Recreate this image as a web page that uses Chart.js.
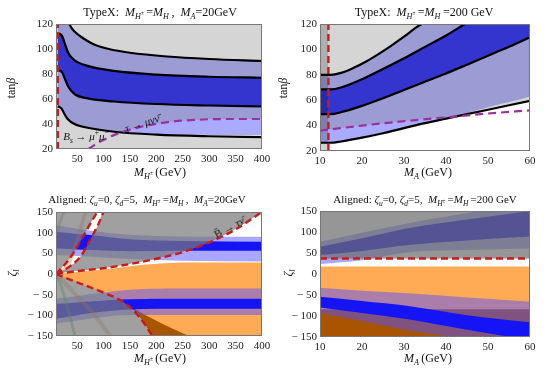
<!DOCTYPE html>
<html>
<head>
<meta charset="utf-8">
<script src="https://cdn.jsdelivr.net/npm/chart.js@4.4.0/dist/chart.umd.min.js"></script>
<style>
  body { margin: 0; width: 552px; height: 373px; overflow: hidden; position: relative; background: #fff;
         font-family: "Liberation Serif", "DejaVu Serif", serif; color: #111; }
  canvas { position: absolute; }
  .t { position: absolute; transform: translate(-50%, -50%); white-space: nowrap; font-size: 12px; }
  .s { font-size: 11px; }
  .t sub, .t sup { font-size: 68%; line-height: 0; }
  .v { transform: translate(-50%, -50%) rotate(-90deg); }
</style>
</head>
<body>
<canvas id="c1" width="276" height="185" style="left:0;top:0"></canvas>
<canvas id="c2" width="276" height="185" style="left:276px;top:0"></canvas>
<canvas id="c3" width="276" height="188" style="left:0;top:185px"></canvas>
<canvas id="c4" width="276" height="188" style="left:276px;top:185px"></canvas>

<div class="t" style="left:160px;top:12px">TypeX:&nbsp; <i>M</i><sub><i>H</i><sup>±</sup></sub>&thinsp;=<i>M</i><sub><i>H</i></sub>&thinsp;,&nbsp; <i>M</i><sub><i>A</i></sub>=20GeV</div>
<div class="t" style="left:424px;top:12px">TypeX:&nbsp; <i>M</i><sub><i>H</i><sup>±</sup></sub>&thinsp;=<i>M</i><sub><i>H</i></sub>&thinsp;=200 GeV</div>
<div class="t s" style="left:147px;top:199px">Aligned: <i>ζ</i><sub><i>u</i></sub>=0, <i>ζ</i><sub><i>d</i></sub>=5,&nbsp; <i>M</i><sub><i>H</i><sup>±</sup></sub>&thinsp;=<i>M</i><sub><i>H</i></sub>&thinsp;,&nbsp; <i>M</i><sub><i>A</i></sub>=20GeV</div>
<div class="t s" style="left:425px;top:199px">Aligned: <i>ζ</i><sub><i>u</i></sub>=0, <i>ζ</i><sub><i>d</i></sub>=5,&nbsp; <i>M</i><sub><i>H</i><sup>±</sup></sub>&thinsp;=<i>M</i><sub><i>H</i></sub>&thinsp;=200 GeV</div>

<div class="t" style="left:160px;top:172px"><i>M</i><sub><i>H</i><sup>±</sup></sub>&thinsp;(GeV)</div>
<div class="t" style="left:428px;top:172px"><i>M</i><sub><i>A</i></sub>&thinsp;(GeV)</div>
<div class="t" style="left:160px;top:358px"><i>M</i><sub><i>H</i><sup>±</sup></sub>&thinsp;(GeV)</div>
<div class="t" style="left:428px;top:358px"><i>M</i><sub><i>A</i></sub>&thinsp;(GeV)</div>

<div class="t v" style="left:11px;top:88px">tan<i>β</i></div>
<div class="t v" style="left:283px;top:88px">tan<i>β</i></div>
<div class="t v" style="left:12px;top:273px"><i>ζ</i><sub><i>l</i></sub></div>
<div class="t v" style="left:288px;top:273px"><i>ζ</i><sub><i>l</i></sub></div>

<div class="t s" style="left:86px;top:136px"><i>B</i><sub><i>s</i></sub> → <i>μ</i><sup>+</sup><i>μ</i><sup>−</sup></div>
<div class="t s" style="left:142px;top:123px;transform:translate(-50%,-50%) rotate(-18deg)"><i>τ</i> → <i>μ</i><i>ν</i><i>ν̄</i></div>
<div class="t s" style="left:229px;top:227px;transform:translate(-50%,-50%) rotate(-28deg)">B̄ → <i>τ</i><i>ν̄</i></div>

<script>
// ---------- tick labels ----------
const massTicksHpm = [50, 100, 150, 200, 250, 300, 350, 400];
const massTicksA = [10, 20, 30, 40, 50, 60];
const tanbTicks = [20, 40, 60, 80, 100, 120];
const zetaTicks = [-150, -100, -50, 0, 50, 100, 150];

// ---------- panel 1: TypeX, M_A = 20 GeV (x = M_H+, y = tan beta) ----------
const p1AM = [35, 40, 45, 60, 80, 110, 150, 220, 300, 400];
const p1A = [120, 116.5, 114, 109, 104, 100, 97, 94, 92, 90.4];
const p1BCM = [13, 18, 22, 27, 33, 45, 70, 120, 200, 300, 400];
const p1B = [112.5, 112, 110, 104, 97, 91, 86.5, 82.5, 79.5, 77.8, 77];
const p1C = [82.7, 82.5, 81, 76, 70, 64, 60.5, 58, 56, 54.8, 54];
const p1DM = [13, 17, 21, 26, 32, 45, 70, 120, 200, 300, 400];
const p1D = [54, 53.5, 52, 48, 44, 40, 37, 33.8, 31.5, 30.2, 29.5];
const p1LowM = [13, 22, 32, 42, 60, 100, 150, 200, 300, 400];
const p1Low = [45, 44, 42, 39.5, 37.5, 34.6, 32.4, 31.8, 31.4, 31.1];
const p1TauM = [71, 90, 116, 154, 218, 281, 340, 400];
const p1Tau = [20, 25, 30.5, 36, 41.3, 43.5, 44, 44];
const p1RedM = 13.5;

// ---------- panel 2: TypeX, M_H+ = M_H = 200 GeV (x = M_A) ----------
const p2AM = [10, 12.5, 15, 18, 21, 24, 27, 30, 33, 34.2];
const p2A = [80, 80, 81.5, 85.5, 90.5, 96.5, 103, 110, 117.5, 120];
const p2BM = [10, 12.5, 15, 20, 25, 30, 35, 40, 44.5];
const p2B = [68.5, 68.5, 70, 76.5, 84.5, 93, 102, 111, 120];
const p2CDM = [10, 12.5, 15, 20, 25, 30, 35, 40, 45, 50, 55, 60];
const p2C = [49, 49, 50.5, 55.5, 61.5, 68, 74.5, 81, 88, 95, 102, 109.5];
const p2D = [26.5, 26.5, 27.5, 30.5, 34, 38, 42, 45.5, 49, 52.5, 56, 59.5];
const p2LowM = [10, 20, 30, 40, 45, 50, 55, 60];
const p2Low = [26.5, 30.5, 38, 46, 50, 54.5, 58.5, 63];
const p2TauM = [10, 20, 30, 40, 50, 60];
const p2Tau = [36, 40, 43.5, 46.5, 49.5, 52];
const p2RedM = 12;

// ---------- panel 3: Aligned, M_A = 20 GeV (x = M_H+, y = zeta_l) ----------
const p3OrangeM = [10, 50, 100, 150, 200, 250, 300, 400];
const p3Orange = [0, 5, 11, 19, 25, 28, 28, 28];
const p3UpM = [10, 50, 100, 150, 200, 250, 300, 350, 400];
const p3Up = [0, 7, 14, 24, 37, 53, 76, 108, 150];
const p3LowM = [10, 50, 94, 130, 150, 165, 180, 192];
const p3Low = [0, -20, -42, -62, -80, -100, -125, -150];
const p3BrownM = [10, 60, 100, 130, 160, 200, 230, 262];
const p3Brown = [0, -25, -45, -62, -85, -113, -132, -150];
const p3S1M = [10, 30, 45, 60, 72, 88];
const p3S1 = [0, 28, 55, 88, 115, 150];
const p3S2M = [10, 40, 58, 68, 80, 90, 100];
const p3S2 = [0, 22, 45, 66, 95, 120, 150];
const p3BandM = [10, 40, 80, 150, 250, 400];
const p3UpLightTop = [118, 112, 104, 95, 91, 90];
const p3UpLightBot = [46, 44, 42, 36, 32, 30];
const p3UpCoreTop = [102, 98, 94, 84, 80, 78];
const p3UpCoreBot = [62, 60, 58, 55, 56, 56];
const p3LoLightTop = [-60, -55, -48, -38, -35, -35];
const p3LoLightBot = [-120, -115, -107, -99, -99, -99];
const p3LoCoreTop = [-72, -70, -66, -61, -60, -60];
const p3LoCoreBot = [-108, -102, -94, -86, -84, -84];
const p3GreenTopM = [12, 17, 21, 25];
const p3GreenTop = [100, 122, 138, 150];
const p3TanTopM = [10, 22, 33, 49, 58, 66];
const p3TanTop = [0, 8, 22, 78, 115, 150];
const p3GreenBotM = [12, 20, 33, 40, 46];
const p3GreenBot = [-5, -30, -87, -120, -150];
const p3TanBotM = [10, 40, 80, 113];
const p3TanBot = [0, -40, -95, -150];

// ---------- panel 4: Aligned, M_H+ = M_H = 200 GeV (x = M_A) ----------
const p4EdgeM = [10, 60];
const p4Orange = [18, 18];
const p4Brown = [-84, -84];
const p4Red = [37, 37];
const p4BandM = [10, 20, 31, 45, 60];
const p4UpLightTop = [77, 98, 121, 145, 170];
const p4UpLightBot = [24, 33, 52, 57, 61];
const p4UpCoreTop = [65, 85, 109, 130, 150];
const p4UpCoreBot = [45, 55, 69, 80, 89];
const p4LoLightTop = [-33, -40, -46, -56, -66];
const p4LoLightBot = [-92, -112, -134, -155, -178];
const p4LoCoreTop = [-54, -64, -76, -98, -115];
const p4LoCoreBot = [-80, -93, -108, -133, -158];

// ---------- colours ----------
const lightGray = '#d5d5d5';
const lavender = '#9c9cd4';
const deepBlue = '#3434cf';
const paleBlue = '#aaaaff';
const orange = '#ffaa55';
const brown = '#a85400';
const bandLight = 'rgba(85, 80, 255, 0.5)';
const bandCore = '#1414f5';
const red = '#cc1a1a';
const purple = '#993399';

function pts(xs, ys) {
  return xs.map((x, i) => ({ x: x, y: ys[i] }));
}

// layered dataset list: first added is drawn first (bottom)
function layers() {
  const list = [];
  const base = { pointRadius: 0, borderColor: 'transparent', borderWidth: 0,
                 cubicInterpolationMode: 'monotone', fill: false };
  return {
    list: list,
    add(o) {
      list.push(Object.assign({}, base, o, { order: -list.length }));
      return list.length - 1;
    },
    area(data, color, fill) {
      return this.add({ data: data, backgroundColor: color, fill: fill });
    },
    band(lo, hi, color) {
      const t = this.add({ data: hi });
      return this.add({ data: lo, fill: { target: t, above: color, below: color } });
    },
    line(data, color, width, dash) {
      return this.add({ data: data, borderColor: color, borderWidth: width, borderDash: dash || [] });
    },
    vline(x, y0, y1, color) {
      return this.add({ data: [{ x: x, y: y0 }, { x: x, y: y1 }], borderColor: color, borderWidth: 2.4,
                        borderDash: [7, 4], cubicInterpolationMode: 'default', tension: 0 });
    }
  };
}

const frame = {
  id: 'frame',
  beforeDatasetsDraw(chart, args, opts) {
    if (!opts.bg) return;
    const a = chart.chartArea, ctx = chart.ctx;
    ctx.save();
    ctx.fillStyle = opts.bg;
    ctx.fillRect(a.left, a.top, a.right - a.left, a.bottom - a.top);
    ctx.restore();
  },
  afterDatasetsDraw(chart) {
    const a = chart.chartArea, ctx = chart.ctx;
    ctx.save();
    ctx.strokeStyle = '#777';
    ctx.lineWidth = 1;
    ctx.strokeRect(a.left + 0.5, a.top + 0.5, a.right - a.left - 1, a.bottom - a.top - 1);
    ctx.restore();
  }
};

const tickFont = { family: '"Liberation Serif", "DejaVu Serif", serif', size: 11 };

function panel(id, xr, yr, xt, yt, geo, L, bg) {
  new Chart(document.getElementById(id), {
    type: 'line',
    data: { datasets: L.list },
    options: {
      responsive: false,
      animation: false,
      events: [],
      layout: { padding: { top: geo.top, right: geo.right, left: 0, bottom: 0 } },
      plugins: { legend: { display: false }, tooltip: { enabled: false }, frame: { bg: bg } },
      scales: {
        x: {
          type: 'linear', min: xr[0], max: xr[1],
          grid: { display: false, drawTicks: false }, border: { display: false },
          ticks: { font: tickFont, color: '#222', padding: 4, maxRotation: 0, autoSkip: false },
          afterBuildTicks: s => { s.ticks = xt.map(v => ({ value: v })); },
          afterFit: s => { s.height = geo.xh; }
        },
        y: {
          type: 'linear', min: yr[0], max: yr[1],
          grid: { display: false, drawTicks: false }, border: { display: false },
          ticks: { font: tickFont, color: '#222', padding: 3, autoSkip: false,
                   callback: v => (v < 0 ? '\u2212 ' + (-v) : String(v)) },
          afterBuildTicks: s => { s.ticks = yt.map(v => ({ value: v })); },
          afterFit: s => { s.width = geo.yw; }
        }
      }
    },
    plugins: [frame]
  });
}

// ---------- build panel 1 ----------
{
  const L = layers();
  const low = pts(p1LowM, p1Low);
  const lowIdx = L.area(low, lavender, 'end');
  L.area(low, '#ffffff', 'start');
  L.area(pts(p1DM, p1D), lightGray, 'start');
  L.add({ data: pts(p1TauM, p1Tau), fill: { target: lowIdx, above: paleBlue, below: 'transparent' } });
  L.band(pts(p1BCM, p1C), pts(p1BCM, p1B), deepBlue);
  L.area(pts(p1AM, p1A), lightGray, 'end');
  L.line(pts(p1AM, p1A), '#000', 2.2);
  L.line(pts(p1BCM, p1B), '#000', 2.2);
  L.line(pts(p1BCM, p1C), '#000', 2.2);
  L.line(pts(p1DM, p1D), '#000', 2.2);
  L.line(pts(p1TauM, p1Tau), purple, 2.2, [8, 5]);
  L.vline(p1RedM, 20, 120, red);
  panel('c1', [10, 400], [20, 120], massTicksHpm, tanbTicks,
        { top: 24, right: 14, yw: 56, xh: 36 }, L, lightGray);
}

// ---------- build panel 2 ----------
{
  const L = layers();
  L.area(pts(p2LowM, p2Low), lavender, 'end');
  L.area(pts(p2TauM, p2Tau), paleBlue, 'start');
  L.area(pts(p2CDM, p2D), '#ffffff', 'start');
  L.area(pts(p2CDM, p2C), deepBlue, 'end');
  L.area(pts(p2BM, p2B), lavender, 'end');
  L.area(pts(p2AM, p2A), lightGray, 'end');
  L.add({ data: [{ x: 10, y: 120 }, { x: p2RedM, y: 120 }], backgroundColor: 'rgba(0,0,0,0.18)',
          fill: 'start', cubicInterpolationMode: 'default', tension: 0 });
  L.line(pts(p2AM, p2A), '#000', 2.2);
  L.line(pts(p2BM, p2B), '#000', 2.2);
  L.line(pts(p2CDM, p2C), '#000', 2.2);
  L.line(pts(p2CDM, p2D), '#000', 2.2);
  L.line(pts(p2TauM, p2Tau), purple, 2.2, [8, 5]);
  L.vline(p2RedM, 20, 120, red);
  panel('c2', [10, 60], [20, 120], massTicksA, tanbTicks,
        { top: 24, right: 22, yw: 44, xh: 34 }, L, lightGray);
}

// ---------- build panel 3 ----------
{
  const L = layers();
  const up = pts(p3UpM, p3Up);
  const low = pts(p3LowM, p3Low);
  const shade = 'rgba(120,120,120,0.7)';
  L.area(pts(p3OrangeM, p3Orange), orange, 'start');
  L.area(pts(p3BrownM, p3Brown), brown, 'start');
  L.area(low, '#ffffff', 'start');
  L.band(pts(p3BandM, p3UpLightBot), pts(p3BandM, p3UpLightTop), bandLight);
  L.band(pts(p3BandM, p3LoLightBot), pts(p3BandM, p3LoLightTop), bandLight);
  L.band(pts(p3BandM, p3UpCoreBot), pts(p3BandM, p3UpCoreTop), bandCore);
  L.band(pts(p3BandM, p3LoCoreBot), pts(p3BandM, p3LoCoreTop), bandCore);
  L.line(pts(p3GreenTopM, p3GreenTop), 'rgba(60,150,60,0.4)', 3);
  L.line(pts(p3TanTopM, p3TanTop), 'rgba(190,120,60,0.35)', 4);
  L.line(pts(p3GreenBotM, p3GreenBot), 'rgba(60,150,60,0.4)', 3);
  L.line(pts(p3TanBotM, p3TanBot), 'rgba(190,120,60,0.35)', 4);
  // excluded regions
  L.area(pts(p3S1M, p3S1), shade, 'end');
  const upIdx = L.add({ data: up });
  const s2edge = pts(p3S2M, p3S2).concat([{ x: 400, y: 150 }]);
  L.add({ data: s2edge, fill: { target: upIdx, above: shade, below: 'transparent' } });
  L.area(low, shade, 'start');
  L.line(up, red, 2.4, [7, 4]);
  L.line(low, red, 2.4, [7, 4]);
  L.line(pts(p3S1M, p3S1), red, 2.4, [7, 4]);
  L.line(pts(p3S2M, p3S2), red, 2.4, [7, 4]);
  panel('c3', [10, 400], [-150, 150], massTicksHpm, zetaTicks,
        { top: 27, right: 14, yw: 56, xh: 37 }, L, null);
}

// ---------- build panel 4 ----------
{
  const L = layers();
  L.area(pts(p4EdgeM, p4Orange), orange, 'start');
  L.area(pts(p4EdgeM, p4Brown), brown, 'start');
  L.band(pts(p4BandM, p4UpLightBot), pts(p4BandM, p4UpLightTop), bandLight);
  L.band(pts(p4BandM, p4LoLightBot), pts(p4BandM, p4LoLightTop), bandLight);
  L.band(pts(p4BandM, p4UpCoreBot), pts(p4BandM, p4UpCoreTop), bandCore);
  L.band(pts(p4BandM, p4LoCoreBot), pts(p4BandM, p4LoCoreTop), bandCore);
  L.area(pts(p4EdgeM, p4Red), 'rgba(110,110,110,0.72)', 'end');
  L.line(pts(p4EdgeM, p4Red), red, 2.4, [7, 4]);
  panel('c4', [10, 60], [-150, 150], massTicksA, zetaTicks,
        { top: 26, right: 22, yw: 44, xh: 36 }, L, null);
}
</script>
</body>
</html>
